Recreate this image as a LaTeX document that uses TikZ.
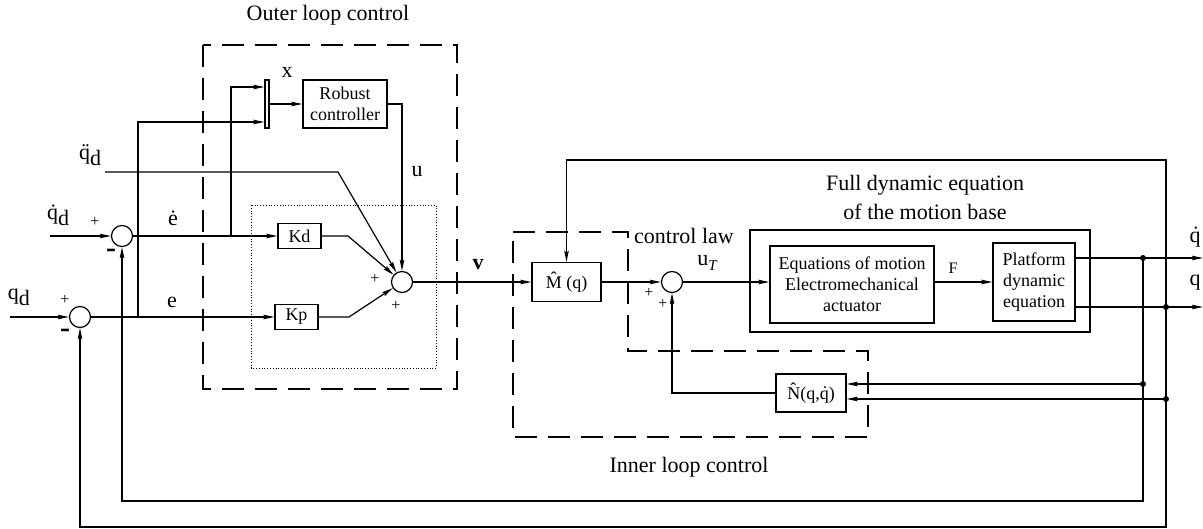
\documentclass[tikz,border=0pt]{standalone}
\usepackage{fontspec}
\setmainfont{Liberation Serif}
\usetikzlibrary{arrows.meta,calc}
\begin{document}
\begin{tikzpicture}[x=1pt,y=-1pt,
  every node/.style={font=\fontsize{22}{26}\selectfont, inner sep=0pt},
  box/.style={draw, line width=1.2pt, fill=white, align=center,
    font=\fontsize{18}{21}\selectfont},
  sumnode/.style={draw, circle, line width=1.2pt, minimum size=21pt, fill=white},
  wire/.style={line width=1.2pt},
  arr/.style={wire, -{Stealth[length=11pt,width=4.5pt,inset=1.5pt]}},
  sign/.style={font=\fontsize{16}{18}\selectfont},
  minus/.style={font=\fontsize{30}{30}\selectfont\bfseries},
  junction/.style={circle, fill, minimum size=6pt},
  dashbox/.style={line width=1.2pt, dash pattern=on 22pt off 11pt},
  small/.style={font=\fontsize{16}{18}\selectfont}
]
\useasboundingbox (0,0) rectangle (1203,529);

% outer loop region
\draw[dashbox] (203,45) rectangle (457,389);
\node (outertitle) at (328,15) {Outer loop control};
\draw[line width=0.8pt, dotted] (251,205) rectangle (436,368);

% inner loop region
\draw[dashbox] (513,232) -- (628,232) -- (628,351) -- (868,351) -- (868,437) -- (513,437) -- cycle;
\node[anchor=west] (lawtitle) at (634,236) {control law};
\node (innertitle) at (689,467) {Inner loop control};

% plant
\draw[wire] (750,230) rectangle (1090,332);
\node (planttitle1) at (925,185) {Full dynamic equation};
\node (planttitle2) at (925,212) {of the motion base};

% summing junctions
\node[sumnode] (s2) at (80,317) {};
\node[sumnode] (s1) at (122,236) {};
\node[sumnode] (sv) at (402,282) {};
\node[sumnode] (s3) at (672,282) {};

% blocks
\node[box, minimum width=4pt, minimum height=48pt] (mux) at (267,104) {};
\node[box, minimum width=84pt, minimum height=48pt] (rob) at (345,104) {Robust\\controller};
\node[box, minimum width=43pt, minimum height=25pt] (kd) at (299.5,236) {Kd};
\node[box, minimum width=43pt, minimum height=25pt] (kp) at (296.5,317) {Kp};
\node[box, minimum width=69pt, minimum height=39pt] (mh) at (566.5,282) {\^{M} (q)};
\node[box, minimum width=164pt, minimum height=77pt] (eq) at (852,284.5) {Equations of motion\\Electromechanical\\actuator};
\node[box, minimum width=82pt, minimum height=78pt] (pl) at (1034,282) {Platform\\dynamic\\equation};
\node[box, minimum width=70pt, minimum height=38pt] (nh) at (811,393) {\^{N}(q,\.{q})};

% named points
\coordinate (qddin) at (105,172);
\coordinate (qdin) at (50,236);
\coordinate (qin) at (10,317);
\coordinate (eb) at (138,317);
\coordinate (edb) at (231,236);
\coordinate (mx1) at ($(mux.west)+(0,-17)$);
\coordinate (mx2) at ($(mux.west)+(0,18)$);
\coordinate (bend0) at (338,172);
\coordinate (bend1) at (348,236);
\coordinate (bend2) at (349,317);
\coordinate (qdj) at (1143,258);
\coordinate (qj) at (1166,307);
\coordinate (n1) at (1143,384);
\coordinate (n2) at (1166,399);
\coordinate (qdo) at (1203,258);
\coordinate (qo) at (1203,307);
\coordinate (topy) at (0,160);
\coordinate (fb1) at (0,501);
\coordinate (fb2) at (0,527);

% outer loop wiring
\draw[arr] (qin) -- (s2.west);
\draw[arr] (qdin) -- (s1.west);
\draw[arr] (s2.east) -- (kp.west);
\draw[arr] (s1.east) -- (kd.west);
\draw[arr] (edb) |- (mx1);
\draw[arr] (eb) |- (mx2);
\draw[arr] (mux.east) -- (rob.west);
\draw[arr] (rob.east) -| (sv.north);
\draw[arr] (qddin) -- (bend0) -- (sv);
\draw[arr] (kd.east) -- (bend1) -- (sv);
\draw[arr] (kp.east) -- (bend2) -- (sv);

% inner loop wiring
\draw[arr] (sv.east) -- (mh.west);
\draw[arr] (mh.east) -- (s3.west);
\draw[arr] (s3.east) -- (s3 -| eq.west);
\draw[arr] (eq.east |- pl) -- (pl.west);
\draw[arr] (nh.west) -| (s3.south);

% outputs and feedback
\draw[arr] (pl.east |- qdj) -- (qdo);
\draw[arr] (pl.east |- qj) -- (qo);
\draw[wire] (qdj) -- (n1);
\draw[arr] (n1) -- (n1 -| nh.east);
\draw[arr] (n2) -- (n2 -| nh.east);
\draw[arr] (n1) -- (n1 |- fb1) -| (s1.south);
\draw[arr] (qj) -- (qj |- topy) -| (mh.north);
\draw[arr] (qj) -- (qj |- fb2) -| (s2.south);
\node[junction] (jqd) at (qdj) {};
\node[junction] (jq) at (qj) {};
\node[junction] (jn1) at (n1) {};
\node[junction] (jn2) at (n2) {};

% signal labels
\node (lqdd) at (90,155) {\"{q}\raisebox{-6pt}{d}};
\node (lqd) at (58,215) {\.{q}\raisebox{-6pt}{d}};
\node (lq) at (19,297) {q\raisebox{-6pt}{d}};
\node (led) at (173,218) {\.{e}};
\node (le) at (172,302) {e};
\node (lx) at (287,72) {x};
\node (lu) at (417,172) {u};
\node[font=\fontsize{22}{26}\selectfont\bfseries] (lv) at (478,265) {v};
\node (lut) at (707,263) {u\raisebox{-5pt}{\fontsize{15}{16}\selectfont\itshape T}};
\node[small] (lF) at (953,268) {F};
\node (lqdo) at (1195,237) {\.{q}};
\node (lqo) at (1195,283) {q};

% signs
\node[sign] (p1) at (95,222) {+};
\node[minus] (m1) at (111,253) {-};
\node[sign] (p2) at (65,300) {+};
\node[minus] (m2) at (65,333) {-};
\node[sign] (p3) at (375,279) {+};
\node[sign] (p4) at (396,306) {+};
\node[sign] (p5) at (649,293) {+};
\node[sign] (p6) at (663,304) {+};
\end{tikzpicture}
\end{document}
